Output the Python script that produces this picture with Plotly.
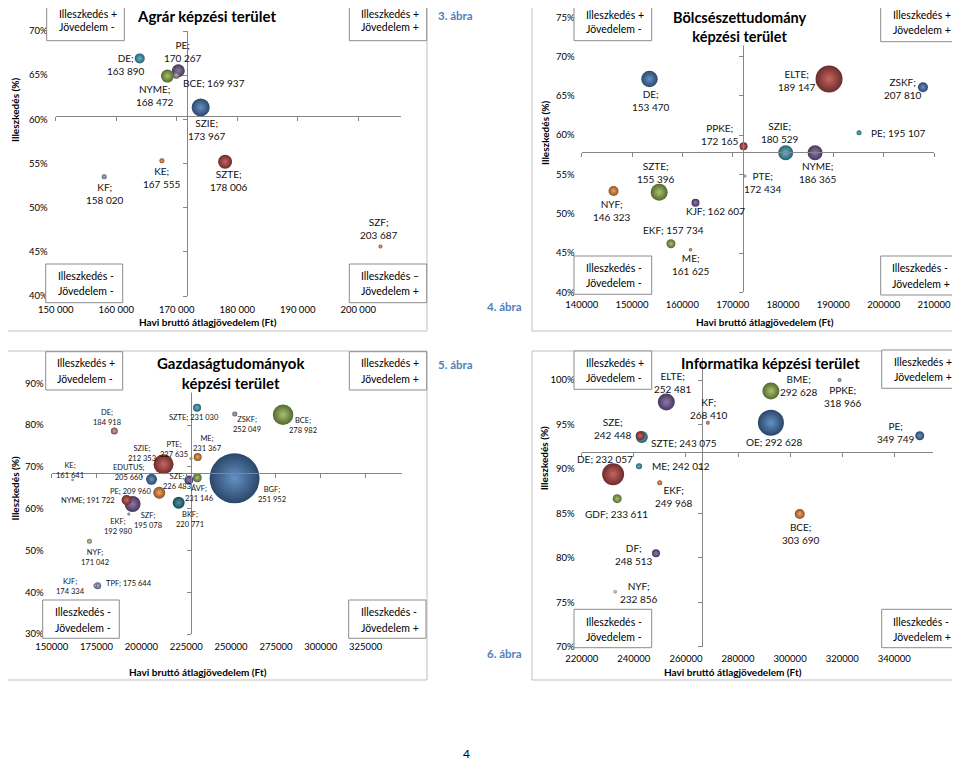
import plotly.graph_objects as go

# The page body adds an 8 px margin, so the figure is drawn 8 px smaller and
# every reference pixel position is shifted by OFF.
PAGE_W, PAGE_H = 960, 761
OFF = 8
W, H = PAGE_W - OFF, PAGE_H - OFF
FONT = "Lato"
AXC = "#868686"

# ================= DATA =================
# 3. ábra – Agrár képzési terület
agr_names = ["DE", "PE", "BCE", "NYME", "SZIE", "KE", "KF", "SZTE", "SZF"]
agr_income = [163890, 170267, 169937, 168472, 173967, 167555, 158020, 178006, 203687]
agr_fit = [0.669, 0.655, 0.650, 0.649, 0.6135, 0.553, 0.535, 0.552, 0.456]
agr_grads = [100, 169, 49, 169, 324, 25, 25, 196, 16]
agr_cross = [171700, 0.604]
agr_xticks = [150000, 160000, 170000, 180000, 190000, 200000]
agr_xlabels = ["150 000", "160 000", "170 000", "180 000", "190 000", "200 000"]
agr_yticks = [0.40, 0.45, 0.50, 0.55, 0.60, 0.65, 0.70]
agr_ylabels = ["40%", "45%", "50%", "55%", "60%", "65%", "70%"]

# 4. ábra – Bölcsészettudomány képzési terület
bol_names = ["DE", "ELTE", "ZSKF", "PE", "PPKE", "SZIE", "NYME", "PTE", "SZTE", "NYF", "KJF", "EKF", "ME"]
bol_income = [153470, 189147, 207810, 195107, 172165, 180529, 186365, 172434, 155396, 146323, 162607, 157734, 161625]
bol_fit = [0.6715, 0.6715, 0.661, 0.603, 0.5858, 0.5777, 0.5777, 0.548, 0.5273, 0.529, 0.514, 0.4618, 0.4542]
bol_grads = [272, 729, 100, 25, 64, 225, 225, 9, 289, 100, 64, 81, 12]
bol_cross = [172110, 0.578]
bol_xticks = [140000, 150000, 160000, 170000, 180000, 190000, 200000, 210000]
bol_xlabels = ["140000", "150000", "160000", "170000", "180000", "190000", "200000", "210000"]
bol_yticks = [0.40, 0.45, 0.50, 0.55, 0.60, 0.65, 0.70, 0.75]
bol_ylabels = ["40%", "45%", "50%", "55%", "60%", "65%", "70%", "75%"]

# 5. ábra – Gazdaságtudományok képzési terület
gaz_names = ["DE", "SZTE", "ZSKF", "BCE", "ME", "PTE", "SZIE", "KE", "EDUTUS", "SZE",
             "ÁVF", "BGF", "PE", "NYME", "SZF", "BKF", "EKF", "NYF", "KJF", "TPF"]
gaz_income = [184918, 231030, 252049, 278982, 231367, 227635, 212353, 161641, 205660, 226483,
              231146, 251952, 209960, 191722, 195078, 220771, 192980, 171042, 174334, 175644]
gaz_fit = [0.786, 0.8417, 0.8266, 0.825, 0.7237, 0.72, 0.7062, 0.6686, 0.6703, 0.6686,
           0.674, 0.6726, 0.6382, 0.6207, 0.6111, 0.6143, 0.5872, 0.5219, 0.4156, 0.4156]
gaz_grads = [49, 64, 25, 420, 64, 9, 400, 6, 121, 81,
             81, 2500, 144, 100, 256, 144, 9, 25, 16, 49]
gaz_cross = [227480, 0.6846]
gaz_xticks = [150000, 175000, 200000, 225000, 250000, 275000, 300000, 325000]
gaz_xlabels = ["150000", "175000", "200000", "225000", "250000", "275000", "300000", "325000"]
gaz_yticks = [0.30, 0.40, 0.50, 0.60, 0.70, 0.80, 0.90]
gaz_ylabels = ["30%", "40%", "50%", "60%", "70%", "80%", "90%"]

# 6. ábra – Informatika képzési terület
inf_names = ["ELTE", "BME", "PPKE", "KF", "OE", "SZE", "SZTE", "PE", "DE", "ME",
             "EKF", "GDF", "BCE", "DF", "NYF"]
inf_income = [252481, 292628, 318966, 268410, 292628, 242448, 243075, 349749, 232057, 242012,
              249968, 233611, 303690, 248513, 232856]
inf_fit = [0.9752, 0.9876, 1.0, 0.952, 0.952, 0.9373, 0.9359, 0.9373, 0.8939, 0.9029,
           0.8845, 0.8665, 0.8493, 0.805, 0.7619]
inf_grads = [289, 289, 16, 16, 676, 81, 144, 81, 484, 36, 25, 81, 100, 64, 12]
inf_cross = [266300, 0.9193]
inf_xticks = [220000, 240000, 260000, 280000, 300000, 320000, 340000]
inf_xlabels = ["220000", "240000", "260000", "280000", "300000", "320000", "340000"]
inf_yticks = [0.70, 0.75, 0.80, 0.85, 0.90, 0.95, 1.00]
inf_ylabels = ["70%", "75%", "80%", "85%", "90%", "95%", "100%"]

x_title = "Havi bruttó átlagjövedelem (Ft)"
y_title = "Illeszkedés (%)"

# ================= STYLE =================
agr_colors = {"DE": "#4BACC6", "PE": "#8064A2", "BCE": "#A6A6A6", "NYME": "#9BBB59", "SZIE": "#4F81BD",
              "KE": "#F79646", "KF": "#95B3D7", "SZTE": "#C0504D", "SZF": "#D9A07A"}
bol_colors = {"DE": "#4F81BD", "ELTE": "#C0504D", "ZSKF": "#4F81BD", "PE": "#4BACC6", "PPKE": "#C0504D",
              "SZIE": "#4BACC6", "NYME": "#8064A2", "PTE": "#BFBFBF", "SZTE": "#9BBB59", "NYF": "#F79646",
              "KJF": "#8064A2", "EKF": "#9BBB59", "ME": "#F79646"}
gaz_colors = {"DE": "#D99694", "SZTE": "#4BACC6", "ZSKF": "#B3A2C7", "BCE": "#9BBB59", "ME": "#F79646",
              "PTE": "#BFBFBF", "SZIE": "#C0504D", "KE": "#BFBFBF", "EDUTUS": "#4F81BD", "SZE": "#8064A2",
              "ÁVF": "#9BBB59", "BGF": "#4F81BD", "PE": "#F79646", "NYME": "#C0504D", "SZF": "#8064A2",
              "BKF": "#31859C", "EKF": "#95B3D7", "NYF": "#C3D69B", "KJF": "#B3A2C7", "TPF": "#95B3D7"}
inf_colors = {"ELTE": "#8064A2", "BME": "#9BBB59", "PPKE": "#95B3D7", "KF": "#D99694", "OE": "#4F81BD",
              "SZE": "#C0504D", "SZTE": "#4BACC6", "PE": "#4F81BD", "DE": "#C0504D", "ME": "#4BACC6",
              "EKF": "#F79646", "GDF": "#9BBB59", "BCE": "#F79646", "DF": "#8064A2", "NYF": "#D7E4BD"}

# label offsets (px from bubble centre: dx, dy-down, anchor, lines)
agr_lab = {"DE": (-13.7, 6.3, 'c', 2), "PE": (4.7, -19.6, 'c', 2), "BCE": (4.7, 7.7, 'l', 1),
           "NYME": (-12.5, 19.1, 'c', 2), "SZIE": (6.8, 22, 'c', 2), "KE": (0, 16.7, 'c', 2),
           "KF": (1, 16.6, 'c', 2), "SZTE": (3.6, 19.1, 'c', 2), "SZF": (-1, -18.4, 'c', 2)}
bol_lab = {"DE": (2, 21.2, 'c', 2), "ELTE": (-32, 2, 'c', 2), "ZSKF": (-20.3, 1.1, 'c', 2),
           "PE": (10.2, 0, 'l', 1), "PPKE": (-23.3, -11.6, 'c', 2), "SZIE": (-5.7, -20, 'c', 2),
           "NYME": (2.6, 19.6, 'c', 2), "PTE": (17.7, 6.5, 'c', 2), "SZTE": (-3.5, -20, 'c', 2),
           "NYF": (-1.2, 20, 'c', 2), "KJF": (20.2, 8.6, 'c', 1), "EKF": (2.8, -13.4, 'c', 1),
           "ME": (0.5, 14.6, 'c', 2)}
gaz_lab = {"DE": (-7.6, -13.9, 'c', 2), "SZTE": (-2.8, 10.3, 'c', 1), "ZSKF": (12.2, 10.7, 'c', 2),
           "BCE": (19.6, 11.1, 'c', 2), "ME": (10.3, -13, 'c', 2), "PTE": (-17.3, -9.5, 'c', 2),
           "SZIE": (-21.9, -10.3, 'c', 2), "KE": (-2.9, -9.5, 'c', 2), "EDUTUS": (-22.1, -6.3, 'c', 2),
           "SZE": (-12.1, 2, 'c', 2), "ÁVF": (2.4, 16, 'c', 2), "BGF": (37.1, 16.5, 'c', 2),
           "PE": (-6.6, -1, 'r', 1), "NYME": (-9.2, 0.7, 'r', 1), "SZF": (15.1, 16.4, 'c', 2),
           "BKF": (11.3, 17.1, 'c', 2), "EKF": (-10.5, 12.5, 'c', 2), "NYF": (5.5, 15.9, 'c', 2),
           "KJF": (-24.7, 0.6, 'c', 2), "TPF": (6.3, -2, 'l', 1)}
inf_lab = {"ELTE": (6.7, -19.3, 'c', 2), "BME": (28.1, -6, 'c', 2), "PPKE": (3.2, 16.7, 'c', 2),
           "KF": (0.9, -14.5, 'c', 2), "OE": (3.4, 19, 'c', 1), "SZE": (-26.9, -7.4, 'c', 2),
           "SZTE": (7.5, 5.8, 'l', 1), "PE": (-23.7, -3.4, 'c', 2), "DE": (-8.1, -15, 'c', 1),
           "ME": (11, 0, 'l', 1), "EKF": (14.2, 14.3, 'c', 2), "GDF": (-0.2, 15.6, 'c', 1),
           "BCE": (1, 20, 'c', 2), "DF": (-22.3, 0.7, 'c', 2), "NYF": (24.1, 1, 'c', 2)}

QP = ("Illeszkedés +", "Jövedelem -")
QPP = ("Illeszkedés +", "Jövedelem +")
QM = ("Illeszkedés -", "Jövedelem -")
QMP = ("Illeszkedés -", "Jövedelem +")

charts = [
    dict(names=agr_names, x=agr_income, y=agr_fit, n=agr_grads, cross=agr_cross,
         xt=agr_xticks, xtt=agr_xlabels, yt=agr_yticks, ytt=agr_ylabels,
         xr=[150000, 207000], yr=[0.40, 0.70], box=(55.7, 31, 400.5, 296),
         frame=(1, 2, 427, 331), dmax=18, colors=agr_colors, lab=agr_lab, lfs=10,
         title="Agrár képzési terület", tpos=(206.7, 16.5), tbg=False, tfs=15,
         xtp=(208, 322.3), ytp=(15, 110), xstand=6, ystand=7,
         quads=[((46.7, 1.7, 124.3, 40.7), 56.7, (14.5, 27.5), QP),
                ((349.3, 1.7, 426.7, 40.7), 359.3, (14.5, 27.5), QPP),
                ((45.7, 264, 122.7, 302.7), 55.5, (276, 291.3), QM),
                ((349.3, 264, 426.7, 302.7), 359.3, (276, 291.3), ("Illeszkedés –", "Jövedelem +"))],
         fig_label="3. ábra", fpos=(455, 16)),
    dict(names=bol_names, x=bol_income, y=bol_fit, n=bol_grads, cross=bol_cross,
         xt=bol_xticks, xtt=bol_xlabels, yt=bol_yticks, ytt=bol_ylabels,
         xr=[140000, 210000], yr=[0.40, 0.75], box=(581.7, 17.3, 934, 292.3),
         frame=(532, 2, 958, 331), dmax=27, colors=bol_colors, lab=bol_lab, lfs=10,
         title="Bölcsészettudomány<br>képzési terület", tpos=(739.3, 27.2), tbg=True, tfs=14.5,
         xtp=(765, 322), ytp=(545.7, 133.3), xstand=5, ystand=6,
         quads=[((574, 1.7, 651.7, 40.7), 584.3, (15, 29.5), QP),
                ((880.7, 2.3, 958.3, 41.7), 891, (15.2, 30), QPP),
                ((574, 256, 651.7, 294.3), 584.3, (267.7, 283.3), QM),
                ((880.7, 256, 958.3, 295), 890, (268.3, 284), QMP)],
         fig_label="4. ábra", fpos=(504, 306)),
    dict(names=gaz_names, x=gaz_income, y=gaz_fit, n=gaz_grads, cross=gaz_cross,
         xt=gaz_xticks, xtt=gaz_xlabels, yt=gaz_yticks, ytt=gaz_ylabels,
         xr=[150000, 345000], yr=[0.30, 0.90], box=(51.7, 383.3, 401.5, 634),
         frame=(1, 351, 427, 680), dmax=50, colors=gaz_colors, lab=gaz_lab, lfs=7.5,
         title="Gazdaságtudományok<br>képzési terület", tpos=(231.3, 373.3), tbg=True, tfs=15,
         xtp=(198.3, 671.7), ytp=(14.5, 489), xstand=5, ystand=7,
         quads=[((45.7, 351.7, 122.7, 390), 55, (363.3, 378.7), QP),
                ((349.3, 351.7, 426.7, 390), 359.3, (363.3, 378.7), QPP),
                ((42.7, 600, 119.3, 638.3), 52.7, (612.3, 627.7), QM),
                ((348.7, 600, 426, 638.3), 358.7, (612.3, 627.7), QMP)],
         fig_label="5. ábra", fpos=(455, 364)),
    dict(names=inf_names, x=inf_income, y=inf_fit, n=inf_grads, cross=inf_cross,
         xt=inf_xticks, xtt=inf_xlabels, yt=inf_yticks, ytt=inf_ylabels,
         xr=[220000, 355000], yr=[0.70, 1.025], box=(581.7, 357.8, 933.4, 646.7),
         frame=(532, 351, 958, 680), dmax=26, colors=inf_colors, lab=inf_lab, lfs=10,
         title="Informatika képzési terület", tpos=(770.7, 363.3), tbg=False, tfs=15,
         xtp=(732.7, 671.7), ytp=(544, 458.3), xstand=5, ystand=6,
         quads=[((574, 351, 651.7, 389.3), 584.3, (363.3, 378.3), QP),
                ((881.7, 350, 959, 388.3), 892.3, (362.3, 377.3), QPP),
                ((574, 609.3, 651.7, 647.7), 584.3, (621.7, 636.7), QM),
                ((881.7, 609.3, 959, 647.7), 891, (621.7, 636.7), QMP)],
         fig_label="6. ábra", fpos=(504, 653)),
]


def mix(hexc, other, f):
    h = hexc.lstrip('#')
    r, g, b = int(h[0:2], 16), int(h[2:4], 16), int(h[4:6], 16)
    r = round(r + (other - r) * f)
    g = round(g + (other - g) * f)
    b = round(b + (other - b) * f)
    return f"#{r:02x}{g:02x}{b:02x}"


def fmt_num(v):
    return f"{v:,}".replace(",", " ")


def fx(px):
    return (px - OFF) / W


def fy(py):
    return 1 - (py - OFF) / H


fig = go.Figure()
layout = {}
shapes = []
annotations = []

for i, c in enumerate(charts, start=1):
    sfx = '' if i == 1 else str(i)
    ov = str(i + 4)
    xref, yref = 'x' + sfx, 'y' + sfx
    bx0, by0, bx1, by1 = c['box']
    xdom = [fx(bx0), fx(bx1)]
    ydom = [fy(by1), fy(by0)]
    xr, yr = c['xr'], c['yr']

    order = sorted(range(len(c['names'])), key=lambda k: -c['n'][k])
    names = [c['names'][k] for k in order]
    xs = [c['x'][k] for k in order]
    ys = [c['y'][k] for k in order]
    ns = [c['n'][k] for k in order]
    base = [c['colors'][nm] for nm in names]
    sizeref = 2.0 * max(ns) / c['dmax'] ** 2

    fig.add_trace(go.Scatter(
        x=xs, y=ys, mode='markers', xaxis=xref, yaxis=yref, opacity=1,
        marker=dict(size=ns, sizemode='area', sizeref=sizeref, opacity=1,
                    color=[mix(b, 0, 0.45) for b in base],
                    gradient=dict(type='radial', color=[mix(b, 255, 0.12) for b in base]),
                    line=dict(width=0)),
        cliponaxis=False, hoverinfo='skip', showlegend=False))
    # empty trace for the crossing axes
    fig.add_trace(go.Scatter(x=[], y=[], xaxis='x' + ov, yaxis='y' + ov,
                             showlegend=False, hoverinfo='skip'))

    tickfont = dict(family=FONT, size=9.5, color="#000000")
    layout['xaxis' + sfx] = dict(domain=xdom, range=xr, anchor=yref, tickvals=c['xt'], ticktext=c['xtt'],
                                 showline=False, showgrid=False, zeroline=False, ticks='', automargin=False,
                                 tickfont=tickfont, ticklabelstandoff=c['xstand'], fixedrange=True)
    layout['yaxis' + sfx] = dict(domain=ydom, range=yr, anchor=xref, tickvals=c['yt'], ticktext=c['ytt'],
                                 showline=False, showgrid=False, zeroline=False, ticks='', automargin=False,
                                 tickfont=tickfont, ticklabelstandoff=c['ystand'], fixedrange=True)
    cx, cy = c['cross']
    pos_y = ydom[0] + (cy - yr[0]) / (yr[1] - yr[0]) * (ydom[1] - ydom[0])
    pos_x = xdom[0] + (cx - xr[0]) / (xr[1] - xr[0]) * (xdom[1] - xdom[0])
    layout['xaxis' + ov] = dict(overlaying=xref, anchor='free', position=pos_y, domain=xdom, range=xr,
                                tickvals=c['xt'], showticklabels=False, showline=True, linecolor=AXC,
                                linewidth=1, ticks='outside', ticklen=4, tickcolor=AXC, tickwidth=1,
                                showgrid=False, zeroline=False, fixedrange=True, automargin=False)
    layout['yaxis' + ov] = dict(overlaying=yref, anchor='free', position=pos_x, domain=ydom, range=yr,
                                tickvals=c['yt'], showticklabels=False, showline=True, linecolor=AXC,
                                linewidth=1, ticks='outside', ticklen=4, tickcolor=AXC, tickwidth=1,
                                showgrid=False, zeroline=False, fixedrange=True, automargin=False)

    # bubble labels
    for nm, xv, yv in zip(c['names'], c['x'], c['y']):
        dx, dy, anc, lines = c['lab'][nm]
        sep = "<br>" if lines == 2 else " "
        annotations.append(dict(
            x=xv, y=yv, xref=xref, yref=yref, text=f"{nm};{sep}{fmt_num(xv)}",
            showarrow=False, xshift=dx, yshift=-dy,
            xanchor={'c': 'center', 'l': 'left', 'r': 'right'}[anc], yanchor='middle', align='center',
            font=dict(family=FONT, size=c['lfs'], color="#111111")))

    # chart frame
    fx0, fy0, fx1, fy1 = c['frame']
    shapes.append(dict(type='rect', xref='paper', yref='paper', x0=fx(fx0), x1=fx(fx1), y0=fy(fy1), y1=fy(fy0),
                       line=dict(color="#BFBFBF", width=1), fillcolor='rgba(0,0,0,0)', layer='below'))

    # quadrant boxes
    for (qx0, qy0, qx1, qy1), tx, (l1, l2), (t1, t2) in c['quads']:
        shapes.append(dict(type='rect', xref='paper', yref='paper', x0=fx(qx0), x1=fx(qx1),
                           y0=fy(qy1), y1=fy(qy0), line=dict(color="#8C8C8C", width=1),
                           fillcolor='white', layer='above'))
        for ty, tt in ((l1, t1), (l2, t2)):
            annotations.append(dict(x=fx(tx), y=fy(ty), xref='paper', yref='paper', text=tt,
                                    showarrow=False, xanchor='left', yanchor='middle',
                                    font=dict(family=FONT, size=10.5, color="#000000")))

    # chart title
    tx, ty = c['tpos']
    annotations.append(dict(x=fx(tx), y=fy(ty), xref='paper', yref='paper', text=f"<b>{c['title']}</b>",
                            showarrow=False, xanchor='center', yanchor='middle', align='center',
                            borderpad=0,
                            bgcolor='white' if c['tbg'] else 'rgba(0,0,0,0)',
                            font=dict(family=FONT, size=c['tfs'], color="#000000")))
    # axis titles
    ax_, ay_ = c['xtp']
    annotations.append(dict(x=fx(ax_), y=fy(ay_), xref='paper', yref='paper', text=f"<b>{x_title}</b>",
                            showarrow=False, xanchor='center', yanchor='middle',
                            font=dict(family=FONT, size=10, color="#000000")))
    ax_, ay_ = c['ytp']
    annotations.append(dict(x=fx(ax_), y=fy(ay_), xref='paper', yref='paper', text=f"<b>{y_title}</b>",
                            showarrow=False, xanchor='center', yanchor='middle', textangle=-90,
                            font=dict(family=FONT, size=10, color="#000000")))
    # figure number
    ax_, ay_ = c['fpos']
    annotations.append(dict(x=fx(ax_), y=fy(ay_), xref='paper', yref='paper', text=f"<b>{c['fig_label']}</b>",
                            showarrow=False, xanchor='center', yanchor='middle',
                            font=dict(family=FONT, size=11.5, color="#4F81BD")))

# page number
annotations.append(dict(x=fx(466), y=fy(753), xref='paper', yref='paper', text="4", showarrow=False,
                        xanchor='center', yanchor='middle', font=dict(family=FONT, size=12, color="#000000")))

fig.update_layout(width=W, height=H, margin=dict(l=0, r=0, t=0, b=0, pad=0, autoexpand=False),
                  paper_bgcolor='white', plot_bgcolor='rgba(0,0,0,0)',
                  showlegend=False, shapes=shapes, annotations=annotations,
                  font=dict(family=FONT), **layout)

fig.write_html("out.html")
